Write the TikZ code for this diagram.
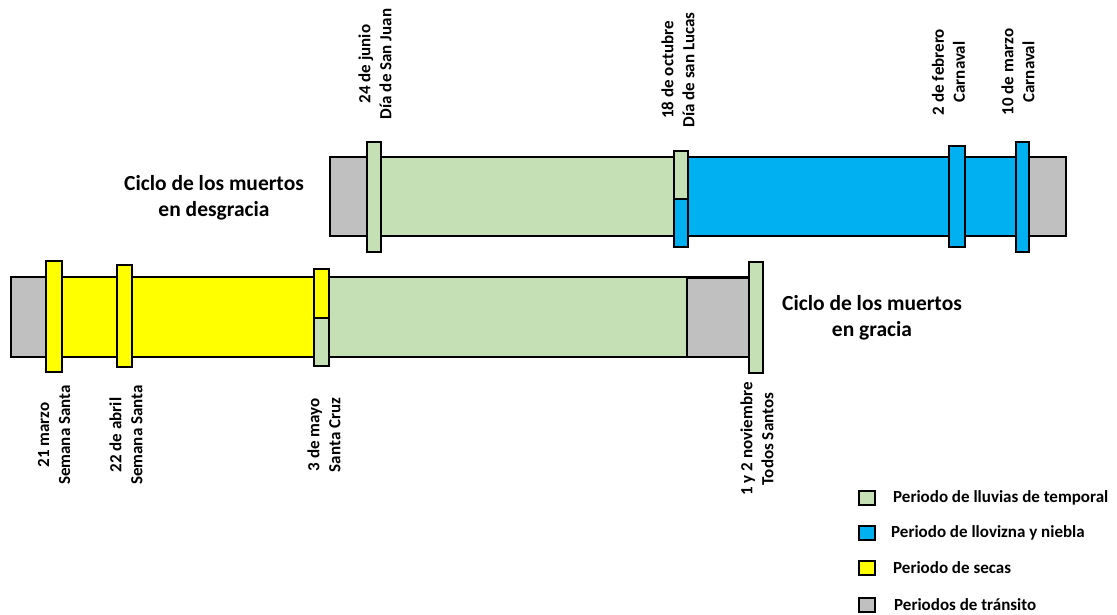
\documentclass[tikz,border=0pt]{standalone}
\usepackage{fontspec}
\setmainfont{Carlito}
\definecolor{cgray}{HTML}{C0C0C0}
\definecolor{cgreen}{HTML}{C5E0B4}
\definecolor{cblue}{HTML}{00B0F0}
\definecolor{cyellow}{HTML}{FFFF00}
\tikzset{
  seg/.style={draw=black, line width=2.4pt, line join=miter},
  datelabel/.style={rotate=90, align=center, inner sep=0pt, font=\bfseries\fontsize{17}{21}\selectfont},
  cyclelabel/.style={align=center, inner sep=0pt, font=\bfseries\fontsize{21.5}{26}\selectfont},
  legtext/.style={anchor=west, inner sep=0pt, font=\bfseries\fontsize{17}{20}\selectfont},
}
\begin{document}
\begin{tikzpicture}[x=1pt,y=-1pt]
\useasboundingbox (0,0) rectangle (1117,615);
% ---- top bar: Ciclo de los muertos en desgracia
\draw[seg, fill=cgray]  (330,157) rectangle (370,236);
\draw[seg, fill=cgreen] (370,157) rectangle (674,236);
\draw[seg, fill=cblue]  (688,157) rectangle (1029,236);
\draw[seg, fill=cgray]  (1029,157) rectangle (1066,236);
% markers
\draw[seg, fill=cgreen] (367,142) rectangle (381,252);
\draw[seg, fill=cgreen] (674,151) rectangle (688,199);
\draw[seg, fill=cblue]  (674,199) rectangle (688,247);
\draw[seg, fill=cblue]  (949,146) rectangle (965,247);
\draw[seg, fill=cblue]  (1016,142) rectangle (1029,252);
% ---- bottom bar: Ciclo de los muertos en gracia
\draw[seg, fill=cgray]   (11,277) rectangle (50,357);
\draw[seg, fill=cyellow] (50,277) rectangle (314,357);
\draw[seg, fill=cgreen]  (314,277) rectangle (687,357);
\draw[seg, fill=cgray]   (687,278) rectangle (749,357);
\draw[seg] (687,277) -- (749,277);
% markers
\draw[seg, fill=cyellow] (46,261) rectangle (62,372);
\draw[seg, fill=cyellow] (117,265) rectangle (132,367);
\draw[seg, fill=cyellow] (314,269) rectangle (329,318);
\draw[seg, fill=cgreen]  (314,318) rectangle (329,366);
\draw[seg, fill=cgreen]  (749,262) rectangle (763,373);
% ---- date labels
\node[datelabel] (sanjuan) at (375,64) {24 de junio\\Día de San Juan};
\node[datelabel] (sanlucas) at (678,70) {18 de octubre\\Día de san Lucas};
\node[datelabel] (febrero) at (948.5,72) {2 de febrero\\Carnaval};
\node[datelabel] (marzo10) at (1018,72) {10 de marzo\\Carnaval};
\node[datelabel] (marzo21) at (54,435) {21 marzo\\Semana Santa};
\node[datelabel] (abril22) at (126,435) {22 de abril\\Semana Santa};
\node[datelabel] (mayo3) at (324,435) {3 de mayo\\Santa Cruz};
\node[datelabel] (noviembre) at (757,439) {1 y 2 noviembre\\Todos Santos};
% ---- cycle labels
\node[cyclelabel] (desgracia) at (214,198) {Ciclo de los muertos\\en desgracia};
\node[cyclelabel] (gracia) at (872,318) {Ciclo de los muertos\\en gracia};
% ---- legend
\draw[seg, line width=2pt, fill=cgreen]  (859,491) rectangle (875,505);
\draw[seg, line width=2pt, fill=cblue]   (859,526) rectangle (875,540);
\draw[seg, line width=2pt, fill=cyellow] (859,561) rectangle (875,575);
\draw[seg, line width=2pt, fill=cgray]   (859,598) rectangle (875,612);
\node[legtext] (leg1) at (893,498) {Periodo de lluvias de temporal};
\node[legtext] (leg2) at (891,533) {Periodo de llovizna y niebla};
\node[legtext] (leg3) at (893,568) {Periodo de secas};
\node[legtext] (leg4) at (894,605) {Periodos de tránsito};
\end{tikzpicture}
\end{document}
